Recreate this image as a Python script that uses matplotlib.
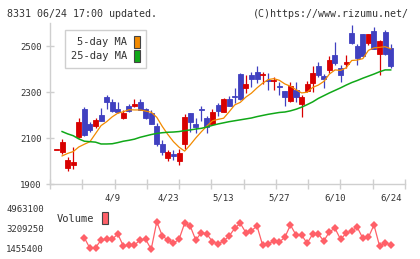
import matplotlib
matplotlib.use('Agg')
import matplotlib.pyplot as plt
from matplotlib.patches import Patch
import numpy as np

# daily candles, 61 sessions
opens = [2046, 2039, 1968, 1983, 2103, 2226, 2161, 2152, 2200, 2280,
         2258, 2225, 2188, 2239, 2239, 2258, 2225, 2210, 2152, 2074,
         2012, 2030, 2000, 2074, 2207, 2161, 2224, 2186, 2161, 2243,
         2214, 2268, 2283, 2378, 2316, 2374, 2386, 2373, 2354, 2346,
         2325, 2306, 2262, 2309, 2247, 2306, 2338, 2413, 2370, 2396,
         2461, 2403, 2423, 2555, 2500, 2552, 2514, 2565, 2465, 2560, 2490]
highs = [2050, 2094, 2019, 2060, 2188, 2233, 2171, 2188, 2232, 2287,
         2268, 2258, 2222, 2248, 2268, 2270, 2232, 2222, 2167, 2091,
         2048, 2048, 2051, 2204, 2210, 2186, 2239, 2196, 2225, 2253,
         2275, 2283, 2316, 2384, 2375, 2386, 2413, 2388, 2384, 2364,
         2345, 2306, 2345, 2345, 2287, 2348, 2413, 2432, 2378, 2457,
         2517, 2417, 2461, 2591, 2509, 2552, 2552, 2584, 2526, 2570, 2509]
lows = [2046, 2030, 1958, 1965, 2100, 2110, 2127, 2143, 2172, 2225,
        2215, 2210, 2181, 2215, 2233, 2220, 2183, 2160, 2065, 2026,
        2000, 2004, 1983, 2051, 2127, 2120, 2174, 2120, 2157, 2197,
        2212, 2238, 2253, 2265, 2297, 2320, 2340, 2333, 2309, 2309,
        2287, 2239, 2258, 2258, 2190, 2300, 2301, 2367, 2319, 2384,
        2417, 2345, 2403, 2510, 2417, 2456, 2504, 2487, 2374, 2462, 2403]
closes = [2050, 2081, 2004, 1997, 2171, 2113, 2135, 2178, 2175, 2255,
          2219, 2212, 2210, 2219, 2248, 2222, 2186, 2162, 2074, 2040,
          2040, 2022, 2036, 2193, 2171, 2149, 2220, 2147, 2213, 2219,
          2270, 2240, 2277, 2270, 2333, 2355, 2355, 2378, 2350, 2350,
          2321, 2277, 2326, 2277, 2280, 2335, 2384, 2374, 2357, 2439,
          2427, 2374, 2430, 2514, 2449, 2458, 2552, 2487, 2522, 2465, 2414]

nan = float('nan')
ma5 = [nan, 2022, 2033, 2041, 2061, 2073, 2084, 2119, 2154, 2171,
       2192, 2208, 2214, 2223, 2222, 2222, 2217, 2212, 2190, 2150,
       2115, 2084, 2060, 2043, 2070, 2100, 2127, 2152, 2175, 2181,
       2186, 2214, 2244, 2255, 2278, 2295, 2318, 2338, 2354, 2358,
       2351, 2335, 2325, 2310, 2296, 2299, 2320, 2330, 2346, 2378,
       2396, 2394, 2405, 2437, 2439, 2445, 2481, 2492, 2494, 2497, 2488]
ma25 = [nan, 2128, 2118, 2110, 2096, 2086, 2084, 2082, 2074, 2074,
        2075, 2080, 2086, 2090, 2095, 2103, 2109, 2115, 2120, 2123,
        2125, 2126, 2128, 2132, 2135, 2139, 2142, 2148, 2155, 2161,
        2166, 2171, 2175, 2179, 2183, 2187, 2193, 2198, 2203, 2207,
        2211, 2213, 2218, 2225, 2234, 2245, 2257, 2272, 2284, 2296,
        2307, 2318, 2330, 2341, 2350, 2360, 2369, 2378, 2388, 2396, 2396]

# volume only drawn from the 6th session on
vol_start = 5
volume = [2446000, 1517000, 1569000, 2245000, 2306000, 2306000, 2771000, 1718000,
          1806000, 1806000, 2245000, 2306000, 1429000, 3849000, 2595000, 2245000,
          1955000, 2306000, 3709000, 3472000, 2245000, 2885000, 2771000, 2096000,
          1894000, 2157000, 2595000, 3271000, 3709000, 2885000, 3060000, 3472000,
          1806000, 1894000, 2157000, 2069000, 2481000, 3560000, 2683000, 2683000,
          1955000, 2771000, 2771000, 2157000, 2972000, 3271000, 2306000, 2832000,
          3060000, 3358000, 2394000, 2481000, 3560000, 1718000, 2008000, 1806000]

date_pos = [10, 20, 30, 40, 50, 60]
date_labels = ['4/9', '4/23', '5/13', '5/27', '6/10', '6/24']
price_ticks = [1900, 2100, 2300, 2500]
vol_ticks = [1455400, 3209250, 4963100]

up_c = '#d80000'
down_c = '#4040c0'
ma5_c = '#f28a00'
ma25_c = '#10a818'
vol_c = '#ff6068'
axis_c = '#cfcfcf'
text_c = '#333333'
mono = 'DejaVu Sans Mono'

W, H = 420, 259
fig = plt.figure(figsize=(W / 100, H / 100), dpi=100)
ax = fig.add_axes([50 / W, 75 / H, 355 / W, 161 / H])
vax = fig.add_axes([50 / W, 10 / H, 355 / W, 40 / H])

x = np.arange(len(closes))
o = np.array(opens)
c = np.array(closes)
cols = [up_c if cc >= oo else down_c for oo, cc in zip(o, c)]

ax.vlines(x, lows, highs, colors=cols, linewidth=0.9, zorder=2)
ax.bar(x, np.abs(c - o), bottom=np.minimum(o, c), width=0.9, color=cols,
       edgecolor=cols, linewidth=0.6, zorder=2)
ax.plot(x, ma5, color=ma5_c, linewidth=0.9, zorder=3)
ax.plot(x, ma25, color=ma25_c, linewidth=1.1, zorder=3)

xmin, xmax = -1.17, 62.57
ax.set_xlim(xmin, xmax)
ax.set_ylim(1900, 2600)
ax.set_xticks(np.linspace(xmin, xmax, 12))
ax.set_xticklabels([])
ax.set_xticks(date_pos, minor=True)
ax.set_xticklabels(date_labels, minor=True)
ax.set_yticks(price_ticks)
ax.set_yticklabels([str(t) for t in price_ticks])
for s in ['top', 'right']:
    ax.spines[s].set_visible(False)
for s in ['left', 'bottom']:
    ax.spines[s].set_color(axis_c)
    ax.spines[s].set_linewidth(1.0)
ax.tick_params(axis='x', which='major', direction='inout', length=6.5, color=axis_c, width=1.0)
ax.tick_params(axis='x', which='minor', length=0, pad=7, labelsize=6.5, labelcolor=text_c)
ax.tick_params(axis='y', direction='inout', length=6, color=axis_c, width=1.0,
               pad=3, labelsize=6.5, labelcolor=text_c)
for lab in ax.get_xticklabels(minor=True) + ax.get_yticklabels():
    lab.set_family(mono)

leg = ax.legend(handles=[Patch(facecolor=ma5_c, edgecolor='#444444', linewidth=0.8),
                         Patch(facecolor=ma25_c, edgecolor='#444444', linewidth=0.8)],
                labels=['5-day MA', '25-day MA'], loc='upper left',
                bbox_to_anchor=(15 / 355, (184 - 30) / 161), borderaxespad=0,
                markerfirst=False, fancybox=False, framealpha=1,
                edgecolor=axis_c, prop={'family': mono, 'size': 7.5},
                handlelength=0.55, handleheight=1.45, handletextpad=0.7,
                labelspacing=0.15, borderpad=0.55)
leg.get_frame().set_linewidth(1.0)
for t in leg.get_texts():
    t.set_color(text_c)

vx = np.arange(vol_start, vol_start + len(volume))
vax.plot(vx, volume, color=vol_c, linewidth=0.9, marker='D', markersize=4.2,
         markeredgewidth=0, clip_on=False)
vax.set_xlim(xmin, xmax)
vax.set_ylim(vol_ticks[0], vol_ticks[-1])
vax.set_xticks([])
vax.set_yticks(vol_ticks)
vax.set_yticklabels([str(t) for t in vol_ticks])
for s in vax.spines.values():
    s.set_visible(False)
vax.tick_params(axis='y', length=0, pad=4.5, labelsize=6.5, labelcolor=text_c)
for lab in vax.get_yticklabels():
    lab.set_family(mono)

fig.legend(handles=[Patch(facecolor=vol_c, edgecolor='#444444', linewidth=0.8)],
           labels=['Volume'], loc='upper left', bbox_to_anchor=(57 / W, 1 - 212 / H),
           borderaxespad=0, borderpad=0, frameon=False, markerfirst=False,
           prop={'family': mono, 'size': 7.5}, handlelength=0.55, handleheight=1.45,
           handletextpad=0.7, labelcolor=text_c)

fig.text(7 / W, 1 - 14 / H, '8331 06/24 17:00 updated.', ha='left', va='center',
         family=mono, fontsize=7.2, color=text_c)
fig.text(409 / W, 1 - 14 / H, '(C)https://www.rizumu.net/', ha='right', va='center',
         family=mono, fontsize=7.2, color=text_c)

fig.savefig('out.png', dpi=100)
